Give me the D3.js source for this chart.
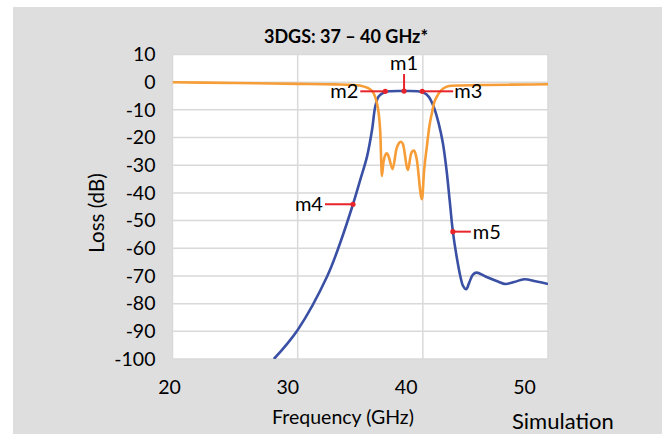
<!DOCTYPE html>
<html>
<head>
<meta charset="utf-8">
<script src="https://cdn.jsdelivr.net/npm/d3@7"></script>
<style>
  html, body { margin: 0; padding: 0; background: #ffffff; }
  svg { display: block; font-family: Lato, "Open Sans", sans-serif; }
</style>
</head>
<body>
<svg id="chart" width="668" height="434"></svg>
<script>
// ---- data ----
const title = "3DGS: 37 \u2013 40 GHz*";
const xTicks = [20, 30, 40, 50];
const yTicks = [10, 0, -10, -20, -30, -40, -50, -60, -70, -80, -90, -100];

// S21 (blue) transmission
const s21Freq = [28.1, 30.0, 32.35, 33.4, 34.42, 35.0, 35.54, 35.94, 36.2, 36.47, 36.87, 37.3, 38.5, 39.6, 40.06, 40.46, 40.86, 41.26, 41.6, 41.9, 42.15, 42.4, 42.7, 43.0, 43.2, 43.46, 43.7, 44.0, 44.3, 45.0, 46.0, 46.6, 47.3, 48.1, 49.0, 50.0];
const s21Loss = [-100, -89.5, -70.2, -58.0, -44.1, -35.3, -26.9, -17.3, -8.8, -5.2, -3.8, -3.3, -3.2, -3.3, -3.8, -5.2, -8.8, -14.8, -22, -32, -43, -54, -63, -70.2, -73.5, -74.8, -72.5, -69.5, -68.8, -70.2, -72, -72.9, -72.2, -71.2, -71.9, -72.9];

// S11 (orange) reflection
const s11Freq = [20, 25, 30, 33, 34.5, 35.3, 35.8, 36.07, 36.3, 36.47, 36.6, 36.73, 36.85, 37.0, 37.13, 37.28, 37.58, 37.9, 38.1, 38.25, 38.42, 38.81, 39.05, 39.18, 39.31, 39.5, 39.93, 40.1, 40.32, 40.52, 40.72, 40.9, 41.12, 41.5, 41.92, 42.3, 43.0, 45.0, 47.0, 50.0];
const s11Loss = [0.0, -0.3, -0.6, -0.8, -1.0, -1.6, -2.6, -4.0, -7.0, -11.2, -18.0, -33.9, -29.0, -26.3, -25.7, -27.0, -31.4, -24.0, -22.0, -21.5, -22.5, -31.7, -26.0, -24.9, -24.7, -27.5, -42.3, -32.0, -23.3, -16.0, -11.2, -7.5, -5.2, -2.8, -1.6, -1.3, -1.2, -1.0, -0.9, -0.76];

// markers
const markerNames = ["m1", "m2", "m3", "m4", "m5"];
const markerFreq = [38.5, 37.0, 39.95, 34.42, 42.4];
const markerLoss = [-3.2, -3.3, -3.3, -44.1, -54.0];

// ---- layout ----
const svg = d3.select("#chart");
const plot = { left: 172.5, right: 548, top: 54.5, bottom: 359 };

svg.append("rect").attr("x", 13).attr("y", 7).attr("width", 649).attr("height", 427).attr("fill", "#dedede");

const x = d3.scaleLinear().domain([20, 50]).range([plot.left, plot.right]);
const y = d3.scaleLinear().domain([-100, 10]).range([plot.bottom, plot.top]);
const xLabel = d3.scaleLinear().domain([20, 50]).range([169, 524]);

svg.append("rect")
  .attr("x", plot.left).attr("y", plot.top)
  .attr("width", plot.right - plot.left).attr("height", plot.bottom - plot.top)
  .attr("fill", "#ffffff");

// grid
const grid = svg.append("g").attr("stroke", "#d9d9d9").attr("stroke-width", 1.5);
grid.selectAll("line.h").data(yTicks).join("line")
  .attr("x1", plot.left).attr("x2", plot.right)
  .attr("y1", d => y(d)).attr("y2", d => y(d));
grid.selectAll("line.v").data(xTicks).join("line")
  .attr("y1", plot.top).attr("y2", plot.bottom)
  .attr("x1", d => x(d)).attr("x2", d => x(d));

const fmt = d => String(d);

// axes
const yAxis = svg.append("g").attr("transform", `translate(${plot.left - 12},0)`)
  .call(d3.axisLeft(y).tickValues(yTicks).tickFormat(fmt).tickSize(0).tickPadding(5));
yAxis.select(".domain").remove();
yAxis.selectAll("text").attr("font-size", 19.5).attr("fill", "#000").attr("font-family", "Lato, sans-serif");

const xAxis = svg.append("g").attr("transform", `translate(0,${plot.bottom})`)
  .call(d3.axisBottom(xLabel).tickValues(xTicks).tickFormat(fmt).tickSize(0).tickPadding(21));
xAxis.select(".domain").remove();
xAxis.selectAll("text").attr("font-size", 19.5).attr("fill", "#000").attr("font-family", "Lato, sans-serif");

// curves
const smooth = d3.line().curve(d3.curveCatmullRom.alpha(0.5));
const sharp = d3.line().curve(d3.curveMonotoneX);
svg.append("clipPath").attr("id", "clip").append("rect")
  .attr("x", plot.left).attr("y", plot.top - 2)
  .attr("width", plot.right - plot.left).attr("height", plot.bottom - plot.top + 2);

svg.append("path")
  .attr("clip-path", "url(#clip)")
  .attr("d", smooth(s21Freq.map((f, i) => [x(f), y(s21Loss[i])])))
  .attr("fill", "none").attr("stroke", "#3a50a4").attr("stroke-width", 2.6);

svg.append("path")
  .attr("clip-path", "url(#clip)")
  .attr("d", sharp(s11Freq.map((f, i) => [x(f), y(s11Loss[i])])))
  .attr("fill", "none").attr("stroke", "#f69d37").attr("stroke-width", 2.6);

// markers (label line offsets in pixels)
const mk = {
  m1: { line: [0, 0, 0, -17], anchor: "middle", t: [0, -21] },
  m2: { line: [0, 0, -25, 0], anchor: "end", t: [-27, 7] },
  m3: { line: [0, 0, 31, 0], anchor: "start", t: [32, 7] },
  m4: { line: [0, 0, -28, 0], anchor: "end", t: [-30, 7] },
  m5: { line: [0, 0, 18, 0], anchor: "start", t: [20, 7] }
};
const mg = svg.append("g");
markerNames.forEach((name, i) => {
  const px = x(markerFreq[i]), py = y(markerLoss[i]);
  const o = mk[name];
  mg.append("line")
    .attr("x1", px + o.line[0]).attr("y1", py + o.line[1])
    .attr("x2", px + o.line[2]).attr("y2", py + o.line[3])
    .attr("stroke", "#e8242b").attr("stroke-width", 2);
  mg.append("circle").attr("cx", px).attr("cy", py).attr("r", 2.6).attr("fill", "#e8242b");
  mg.append("text").attr("x", px + o.t[0]).attr("y", py + o.t[1])
    .attr("text-anchor", o.anchor).attr("font-size", 20).attr("fill", "#000")
    .text(name);
});

// titles
svg.append("text").attr("x", 346).attr("y", 43).attr("text-anchor", "middle")
  .attr("font-size", 18).attr("font-weight", "bold").attr("fill", "#000").text(title);
svg.append("text").attr("x", 343).attr("y", 424).attr("text-anchor", "middle")
  .attr("font-size", 19.5).attr("fill", "#000").text("Frequency (GHz)");
svg.append("text").attr("transform", "translate(104,213) rotate(-90)").attr("text-anchor", "middle")
  .attr("font-size", 20.5).attr("fill", "#000").text("Loss (dB)");
svg.append("text").attr("x", 512).attr("y", 429).attr("text-anchor", "start")
  .attr("font-size", 22).attr("fill", "#000").text("Simulation");
</script>
</body>
</html>
